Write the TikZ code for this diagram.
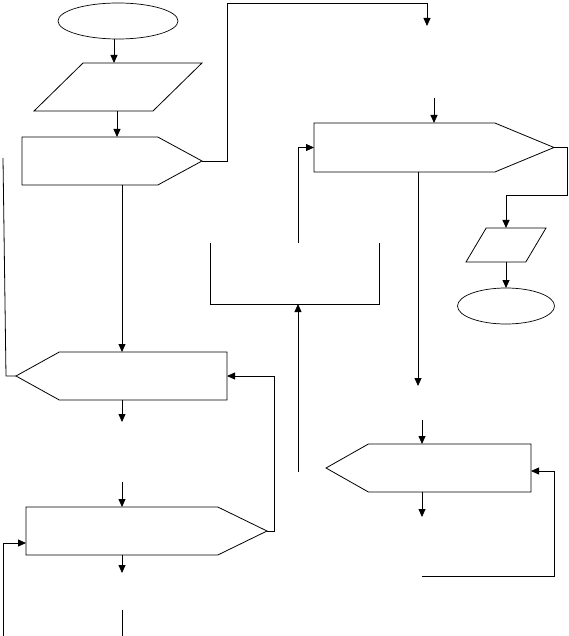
\documentclass[tikz,border=0pt]{standalone}
\usepackage{tikz}
\usetikzlibrary{arrows.meta,positioning,calc,shapes.geometric,shapes.symbols}

\begin{document}
\begin{tikzpicture}[
  x=1pt,y=-1pt,
  every node/.style={inner sep=0pt,outer sep=0pt},
  term/.style={draw,ellipse,line width=.7pt},
  io/.style={draw,trapezium,trapezium stretches=true,inner sep=2pt,line width=.8pt},
  pent/.style={draw,signal,inner sep=2pt,line width=.8pt,minimum height=48pt},
  arrow/.style={-{Triangle[length=8pt,width=7pt]},line width=.8pt},
  link/.style={line width=.8pt}
]
\useasboundingbox (0,0) rectangle (568,636);
% left column
\node[term,minimum width=120pt,minimum height=36pt] (start) at (118,21) {};
\node[io,trapezium left angle=55,trapezium right angle=125,minimum width=168pt,minimum height=48pt] (read) at (118,87) {};
\node[pent,signal to=east,signal pointer angle=57,minimum width=180pt,anchor=west] (test) at (22,161) {};
\node[pent,signal to=west,signal pointer angle=58,minimum width=211pt,anchor=east] (loopa) at (227,376) {};
\node[pent,signal to=east,signal pointer angle=52,minimum width=241pt,anchor=west] (loopb) at (26,531) {};
% right column
\node[pent,signal to=east,signal pointer angle=45,minimum width=240pt,minimum height=49pt,anchor=west] (check) at (314,147.5) {};
\node[io,trapezium left angle=63,trapezium right angle=117,minimum width=80pt,minimum height=34pt] (write) at (506,245) {};
\node[term,minimum width=97pt,minimum height=36pt] (stop) at (506,306) {};
\node[pent,signal to=west,signal pointer angle=59,minimum width=205pt,anchor=east] (loopc) at (531,468) {};
% free ends
\coordinate (jump) at (427,26);
\coordinate (back) at (3,158);
\coordinate (outa) at (122,422);
\coordinate (inb) at (122,482);
\coordinate (outb) at (122,573);
\coordinate (tail) at (122,610);
\coordinate (feed) at (3,636);
\coordinate (inc) at (434,98);
\coordinate (outc) at (418,386);
\coordinate (brl) at (210,243);
\coordinate (brr) at (379,243);
\coordinate (up) at (298,472);
\coordinate (inl) at (422,420);
\coordinate (ret) at (422,576);
\coordinate (outl) at (422,517);

\draw[arrow] ([xshift=-4pt]start.south) -- ([xshift=-4pt]start.south |- read.north);
\draw[arrow] ([xshift=-1pt]read.south) -- ([xshift=-1pt]read.south |- test.north);
\draw[arrow] (test.east) -- ++(25,0) |- (427,3) -- (jump);
\draw[arrow] (outa |- test.south) -- (outa |- loopa.north);
\draw[link] (loopa.west) -- ++(-10,0) -- (back);
\draw[arrow] (outa |- loopa.south) -- (outa);
\draw[arrow] (inb) -- (inb |- loopb.north);
\draw[arrow] (loopb.east) -- ++(7,0) |- (loopa.east);
\draw[arrow] (feed) |- ([yshift=-12pt]loopb.west);
\draw[arrow] (loopb.south -| outb) -- (outb);
\draw[link] (tail) -- (122,636);

\draw[arrow] (inc) -- (inc |- check.north);
\draw[arrow] (check.east) -- ++(13,0) |- ([yshift=33pt]write.north) -- (write.north);
\draw[arrow] (write.south) -- (stop.north);
\draw[arrow] (check.south -| outc) -- (outc);
\draw[arrow] (298,243) |- (check.west);
\draw[link] (brl) -- (210,304) -- (379,304) -- (brr);
\draw[arrow] (up) -- (298,304);
\draw[arrow] (inl) -- (inl |- loopc.north);
\draw[arrow] (ret) -- (554,576) |- ([yshift=-3pt]loopc.east);
\draw[arrow] (loopc.south -| outl) -- (outl);
\end{tikzpicture}
\end{document}
